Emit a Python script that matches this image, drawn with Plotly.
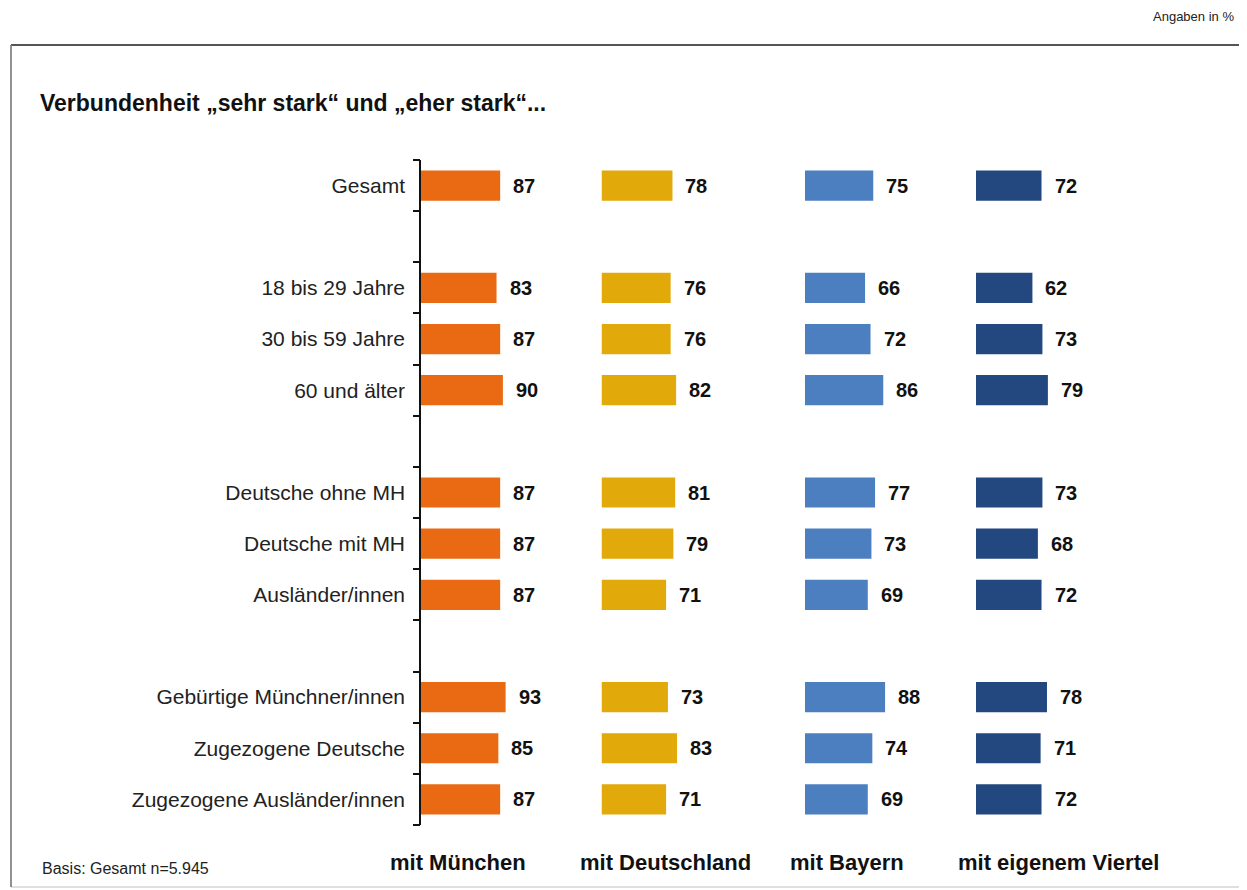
import plotly.graph_objects as go

# ---------------- data ----------------
categories = [
    "Gesamt", " ",
    "18 bis 29 Jahre", "30 bis 59 Jahre", "60 und älter", "  ",
    "Deutsche ohne MH", "Deutsche mit MH", "Ausländer/innen", "   ",
    "Gebürtige Münchner/innen", "Zugezogene Deutsche", "Zugezogene Ausländer/innen",
]
data_categories = [
    "Gesamt",
    "18 bis 29 Jahre", "30 bis 59 Jahre", "60 und älter",
    "Deutsche ohne MH", "Deutsche mit MH", "Ausländer/innen",
    "Gebürtige Münchner/innen", "Zugezogene Deutsche", "Zugezogene Ausländer/innen",
]
series_names = ["mit München", "mit Deutschland", "mit Bayern", "mit eigenem Viertel"]
muenchen = [87, 83, 87, 90, 87, 87, 87, 93, 85, 87]
deutschland = [78, 76, 76, 82, 81, 79, 71, 73, 83, 71]
bayern = [75, 66, 72, 86, 77, 73, 69, 88, 74, 69]
viertel = [72, 62, 73, 79, 73, 68, 72, 78, 71, 72]
series_values = [muenchen, deutschland, bayern, viertel]

title_text = "Verbundenheit „sehr stark“ und „eher stark“..."
unit_text = "Angaben in %"
basis_text = "Basis: Gesamt n=5.945"

# ---------------- style / layout constants ----------------
colors = ["#E96A12", "#E2A90B", "#4C7FC0", "#22487F"]
OFF = 8                      # page body margin offset
W, H = 1247 - OFF, 890 - OFF
AX_X, PLOT_R, PLOT_T, PLOT_B = 421, 1230, 160, 825   # reference-pixel coords
L, R = AX_X - OFF, W - (PLOT_R - OFF)
T, B = PLOT_T - OFF, H - (PLOT_B - OFF)
PW = PLOT_R - AX_X
PH = PLOT_B - PLOT_T
panel_starts_px = [421, 601.5, 805, 976]
px_per_unit = 0.91
xmax = 100
header_centers_px = [458, 665, 847, 1058]

FONT = "Liberation Sans Narrow, Arial Narrow, Liberation Sans, Arial, sans-serif"


def px2x(px):
    return (px - AX_X) / PW


def py2y(py):
    return (PLOT_B - py) / PH


fig = go.Figure()
annotations = []
for i, (name, vals, col) in enumerate(zip(series_names, series_values, colors)):
    xa = "x" if i == 0 else f"x{i + 1}"
    fig.add_trace(go.Bar(
        x=vals, y=data_categories, orientation="h", name=name,
        marker=dict(color=col, line=dict(width=0)),
        xaxis=xa, yaxis="y", showlegend=False, hoverinfo="x+y",
    ))
    for v, c in zip(vals, data_categories):
        annotations.append(dict(
            x=v, y=c, xref=xa, yref="y", text=f"<b>{v}</b>", showarrow=False,
            xanchor="left", yanchor="middle", xshift=11,
            font=dict(family=FONT, size=20, color="#111111"),
        ))
    annotations.append(dict(
        x=px2x(header_centers_px[i]), y=py2y(862), xref="paper", yref="paper",
        text=f"<b>{name}</b>", showarrow=False, xanchor="center", yanchor="middle",
        font=dict(family=FONT, size=22, color="#111111"),
    ))

# empty helper trace so the boundary-tick axis is created
fig.add_trace(go.Scatter(x=[], y=[], xaxis="x", yaxis="y2", showlegend=False,
                         hoverinfo="skip"))

annotations += [
    dict(x=px2x(38), y=py2y(103), xref="paper", yref="paper", text=f"<b>{title_text}</b>",
         showarrow=False, xanchor="left", yanchor="middle",
         font=dict(family=FONT, size=23, color="#111111")),
    dict(x=px2x(1236), y=py2y(17), xref="paper", yref="paper", text=unit_text,
         showarrow=False, xanchor="right", yanchor="middle",
         font=dict(family=FONT, size=13, color="#222222")),
    dict(x=px2x(40), y=py2y(868), xref="paper", yref="paper", text=basis_text,
         showarrow=False, xanchor="left", yanchor="middle",
         font=dict(family=FONT, size=16, color="#222222")),
]

shapes = [
    dict(type="rect", xref="paper", yref="paper", layer="below",
         x0=px2x(11), x1=px2x(1240), y0=py2y(887), y1=py2y(45),
         line=dict(color="#C0C0C0", width=1)),
    dict(type="line", xref="paper", yref="paper",
         x0=px2x(11), x1=px2x(1247), y0=py2y(45), y1=py2y(45),
         line=dict(color="#555555", width=2)),
    dict(type="line", xref="paper", yref="paper",
         x0=px2x(11), x1=px2x(11), y0=py2y(887), y1=py2y(45),
         line=dict(color="#777777", width=1.5)),
]

n = len(categories)
boundaries = [i - 0.5 for i in range(n + 1)]

layout = dict(
    width=W, height=H,
    margin=dict(l=L, r=R, t=T, b=B, pad=0),
    paper_bgcolor="white", plot_bgcolor="white",
    bargap=0.41,
    annotations=annotations, shapes=shapes,
    yaxis=dict(
        type="category", categoryorder="array", categoryarray=categories,
        range=[n - 0.5, -0.5], anchor="x",
        showline=True, linecolor="#111111", linewidth=1.5,
        ticks="", showgrid=False, zeroline=False,
        tickfont=dict(family=FONT, size=21, color="#222222"),
        ticklabelstandoff=10,
    ),
    yaxis2=dict(
        overlaying="y", anchor="x", side="left", type="linear",
        range=[n - 0.5, -0.5], tickmode="array", tickvals=boundaries,
        showticklabels=False, ticks="outside", ticklen=7, tickwidth=2,
        tickcolor="#111111", showline=False, showgrid=False, zeroline=False,
    ),
)
for i, xs in enumerate(panel_starts_px):
    key = "xaxis" if i == 0 else f"xaxis{i + 1}"
    d0 = px2x(xs)
    d1 = px2x(xs + px_per_unit * xmax)
    layout[key] = dict(domain=[d0, d1], range=[0, xmax], anchor="y",
                       visible=False, showgrid=False, zeroline=False, fixedrange=True)

fig.update_layout(**layout)
fig.write_html("out.html")
